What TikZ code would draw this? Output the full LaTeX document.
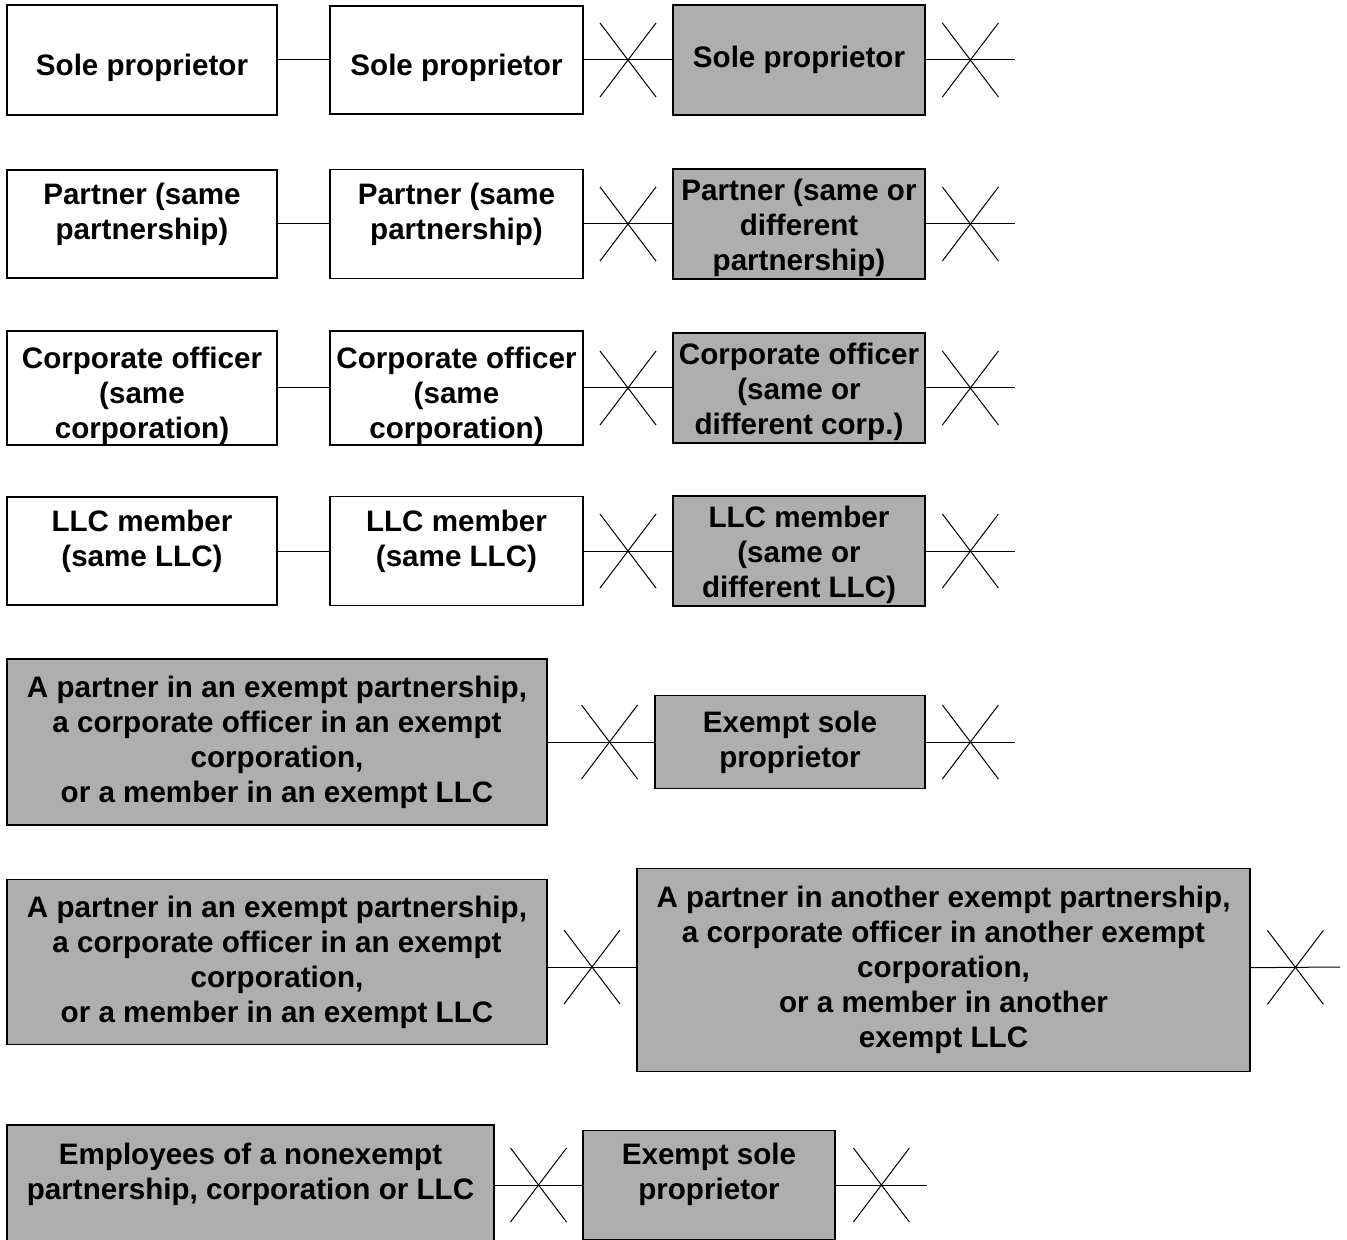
\documentclass[tikz,border=0pt]{standalone}
\usepackage{fontspec}
\setmainfont{Liberation Sans}
\usetikzlibrary{shapes.misc}
\definecolor{shade}{HTML}{AEAEAE}

\begin{document}
\begin{tikzpicture}[
  x=0.5pt, y=-0.5pt,
  every node/.style={font=\fontsize{14.8}{17.5}\selectfont\bfseries},
  plainbox/.style={rectangle, draw=black, line width=0.8pt, fill=white, align=center, inner sep=0pt},
  shadebox/.style={plainbox, fill=shade},
  xmark/.style={cross out, draw=black, line width=0.5pt, minimum width=27.5pt, minimum height=36.5pt, inner sep=0pt},
  link/.style={line width=0.5pt},
  lowpad/.style={text depth=14pt},
  liftpad/.style={text depth=13pt},
  sinkone/.style={text height=19pt},
  sinkthree/.style={text height=54pt},
  sinkhalf/.style={text height=50pt},
]
\useasboundingbox (0,0) rectangle (1347,1240);

% Row 1: sole proprietors
\node[plainbox, sinkone, minimum width=135pt, minimum height=55pt] (sole1) at (142,60) {Sole proprietor};
\node[plainbox, sinkone, minimum width=126.5pt, minimum height=54pt] (sole2) at (456.5,60) {Sole proprietor};
\node[shadebox, minimum width=126pt, minimum height=55pt] (sole3) at (799,60) {Sole proprietor};
\coordinate (sole4) at (1015,60);
\draw[link] (sole1) -- (sole2);
\draw[link] (sole2) -- node[xmark] (xsole1) {} (sole3);
\draw[link] (sole3) -- node[xmark] (xsole2) {} (sole4);

% Row 2: partners
\node[plainbox, liftpad, minimum width=135pt, minimum height=54pt] (part1) at (142,224) {Partner (same\\partnership)};
\node[plainbox, liftpad, minimum width=126.5pt, minimum height=54.5pt] (part2) at (456.5,224) {Partner (same\\partnership)};
\node[shadebox, sinkhalf, minimum width=126pt, minimum height=55pt] (part3) at (799,224) {Partner (same or\\different\\partnership)};
\coordinate (part4) at (1015,224);
\draw[link] (part1) -- (part2);
\draw[link] (part2) -- node[xmark] (xpart1) {} (part3);
\draw[link] (part3) -- node[xmark] (xpart2) {} (part4);

% Row 3: corporate officers
\node[plainbox, sinkthree, minimum width=135pt, minimum height=54.5pt] (corp1) at (142,388) {Corporate officer\\(same\\corporation)};
\node[plainbox, sinkthree, minimum width=126.5pt, minimum height=55.5pt] (corp2) at (456.5,388) {Corporate officer\\(same\\corporation)};
\node[shadebox, sinkhalf, minimum width=126pt, minimum height=55pt] (corp3) at (799,388) {Corporate officer\\(same or\\different corp.)};
\coordinate (corp4) at (1015,388);
\draw[link] (corp1) -- (corp2);
\draw[link] (corp2) -- node[xmark] (xcorp1) {} (corp3);
\draw[link] (corp3) -- node[xmark] (xcorp2) {} (corp4);

% Row 4: LLC members
\node[plainbox, liftpad, minimum width=135pt, minimum height=54pt] (llc1) at (142,551) {LLC member\\(same LLC)};
\node[plainbox, liftpad, minimum width=126.5pt, minimum height=54.5pt] (llc2) at (456.5,551) {LLC member\\(same LLC)};
\node[shadebox, sinkhalf, minimum width=126pt, minimum height=55pt] (llc3) at (799,551) {LLC member\\(same or\\different LLC)};
\coordinate (llc4) at (1015,551);
\draw[link] (llc1) -- (llc2);
\draw[link] (llc2) -- node[xmark] (xllc1) {} (llc3);
\draw[link] (llc3) -- node[xmark] (xllc2) {} (llc4);

% Row 5: exempt owner vs exempt sole proprietor
\node[shadebox, minimum width=270pt, minimum height=83pt] (exa1) at (277,742) {A partner in an exempt partnership,\\a corporate officer in an exempt\\corporation,\\or a member in an exempt LLC};
\node[shadebox, minimum width=135pt, minimum height=46.5pt] (exa2) at (790,742) {Exempt sole\\proprietor};
\coordinate (exa3) at (1015,742);
\draw[link] (exa1) -- node[xmark, pos=0.58] (xexa1) {} (exa2);
\draw[link] (exa2) -- node[xmark] (xexa2) {} (exa3);

% Row 6: exempt owner vs another exempt owner
\node[shadebox, minimum width=270pt, minimum height=82.5pt] (exb1) at (277,962) {A partner in an exempt partnership,\\a corporate officer in an exempt\\corporation,\\or a member in an exempt LLC};
\node[shadebox, minimum width=306.5pt, minimum height=101.5pt] (exb2) at (943.5,970) {A partner in another exempt partnership,\\a corporate officer in another exempt\\corporation,\\or a member in another\\exempt LLC};
\coordinate (exb3) at (1340,967);
\draw[link] (exb1.east |- exb3) -- node[xmark] (xexb1) {} (exb2.west |- exb3);
\draw[link] (exb2) -- node[xmark] (xexb2) {} (exb3);

% Row 7: employees vs exempt sole proprietor
\node[shadebox, lowpad, minimum width=243.5pt, minimum height=60pt] (emp1) at (250.5,1185) {Employees of a nonexempt\\partnership, corporation or LLC};
\node[shadebox, lowpad, minimum width=126pt, minimum height=54.5pt] (emp2) at (709,1185) {Exempt sole\\proprietor};
\coordinate (emp3) at (927,1185);
\draw[link] (emp1) -- node[xmark] (xemp1) {} (emp2);
\draw[link] (emp2) -- node[xmark] (xemp2) {} (emp3);

\end{tikzpicture}
\end{document}
